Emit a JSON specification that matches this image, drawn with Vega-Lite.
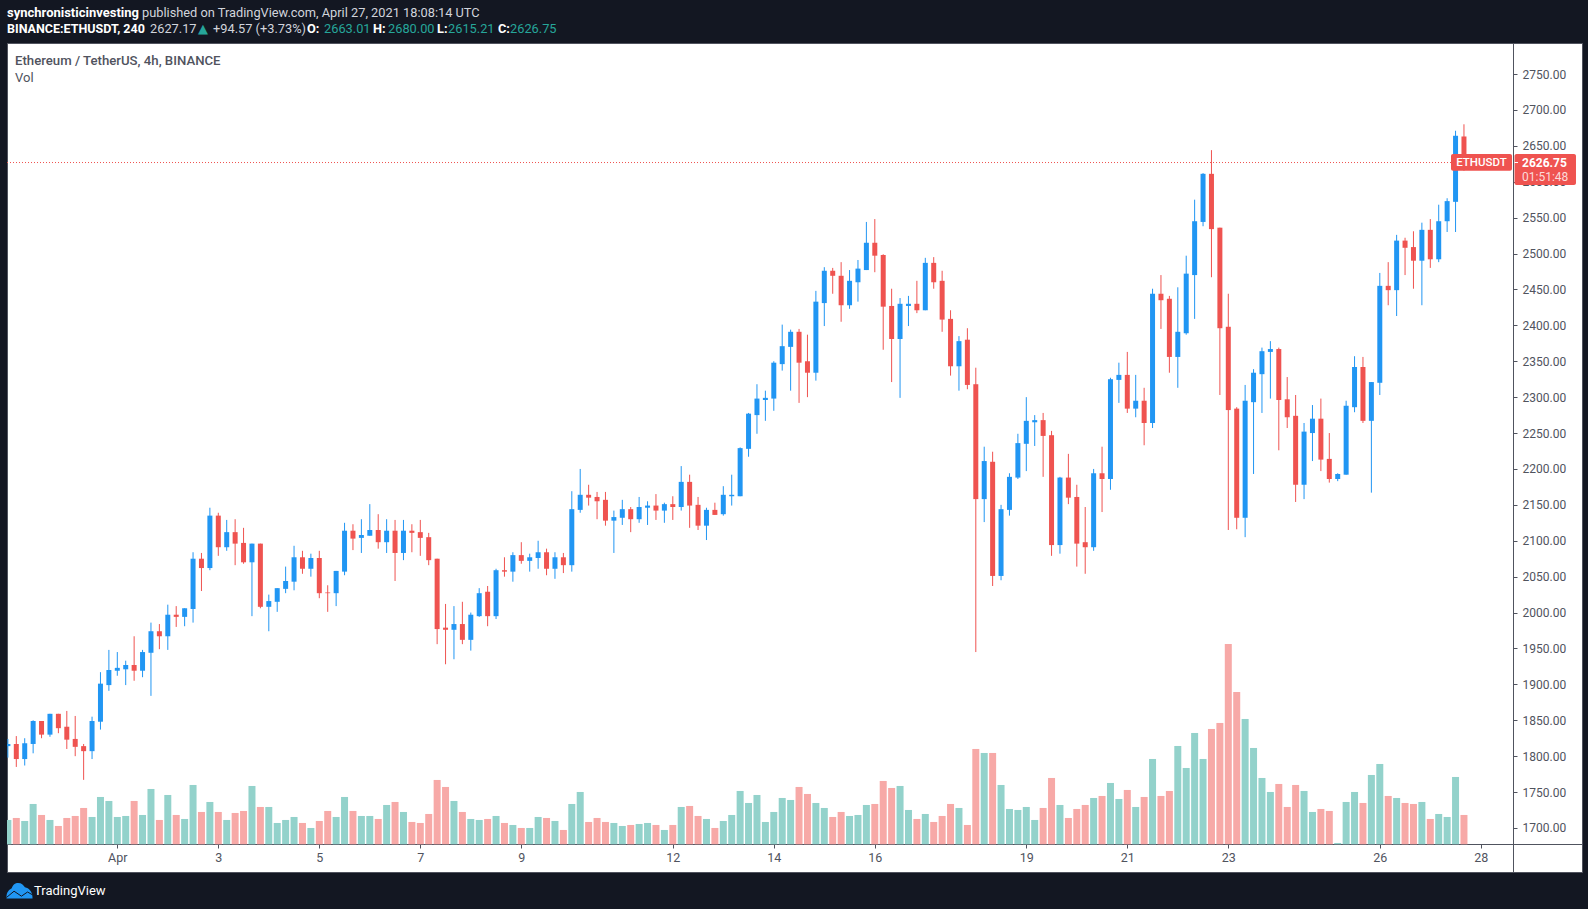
{
"$schema":"https://vega.github.io/schema/vega-lite/v6.json",
"background":"#131722",
"autosize":"none",
"padding":{"left":7,"top":43,"right":6,"bottom":37},
"width":1575,
"height":829,
"view":{"fill":"#ffffff","stroke":"#50535e","strokeWidth":1},
"config":{"scale":{"continuousPadding":0}},
"data":{"values":[
{"t":"2021-03-29T20:00Z","o":1814,"h":1824,"l":1798,"c":1817,"v":73},
{"t":"2021-03-30T00:00Z","o":1817,"h":1828,"l":1785,"c":1796,"v":79},
{"t":"2021-03-30T04:00Z","o":1796,"h":1825,"l":1787,"c":1818,"v":70},
{"t":"2021-03-30T08:00Z","o":1817,"h":1850,"l":1804,"c":1849,"v":121},
{"t":"2021-03-30T12:00Z","o":1849,"h":1849,"l":1825,"c":1830,"v":88},
{"t":"2021-03-30T16:00Z","o":1830,"h":1859,"l":1827,"c":1859,"v":73},
{"t":"2021-03-30T20:00Z","o":1859,"h":1859,"l":1832,"c":1839,"v":55},
{"t":"2021-03-31T00:00Z","o":1841,"h":1863,"l":1810,"c":1823,"v":79},
{"t":"2021-03-31T04:00Z","o":1824,"h":1856,"l":1800,"c":1813,"v":85},
{"t":"2021-03-31T08:00Z","o":1814,"h":1817,"l":1767,"c":1807,"v":109},
{"t":"2021-03-31T12:00Z","o":1807,"h":1855,"l":1796,"c":1849,"v":82},
{"t":"2021-03-31T16:00Z","o":1848,"h":1917,"l":1837,"c":1901,"v":142},
{"t":"2021-03-31T20:00Z","o":1899,"h":1948,"l":1891,"c":1920,"v":130},
{"t":"2021-04-01T00:00Z","o":1919,"h":1945,"l":1912,"c":1923,"v":82},
{"t":"2021-04-01T04:00Z","o":1921,"h":1933,"l":1899,"c":1927,"v":85},
{"t":"2021-04-01T08:00Z","o":1927,"h":1967,"l":1905,"c":1919,"v":130},
{"t":"2021-04-01T12:00Z","o":1919,"h":1948,"l":1910,"c":1945,"v":88},
{"t":"2021-04-01T16:00Z","o":1944,"h":1986,"l":1884,"c":1974,"v":166},
{"t":"2021-04-01T20:00Z","o":1974,"h":1984,"l":1949,"c":1967,"v":73},
{"t":"2021-04-02T00:00Z","o":1967,"h":2011,"l":1948,"c":1997,"v":148},
{"t":"2021-04-02T04:00Z","o":1997,"h":2009,"l":1980,"c":1994,"v":88},
{"t":"2021-04-02T08:00Z","o":1994,"h":2006,"l":1981,"c":2006,"v":76},
{"t":"2021-04-02T12:00Z","o":2005,"h":2084,"l":1986,"c":2075,"v":178},
{"t":"2021-04-02T16:00Z","o":2075,"h":2083,"l":2030,"c":2062,"v":97},
{"t":"2021-04-02T20:00Z","o":2062,"h":2146,"l":2059,"c":2135,"v":127},
{"t":"2021-04-03T00:00Z","o":2135,"h":2139,"l":2079,"c":2091,"v":97},
{"t":"2021-04-03T04:00Z","o":2091,"h":2129,"l":2086,"c":2112,"v":73},
{"t":"2021-04-03T08:00Z","o":2112,"h":2130,"l":2066,"c":2096,"v":94},
{"t":"2021-04-03T12:00Z","o":2097,"h":2118,"l":2068,"c":2070,"v":100},
{"t":"2021-04-03T16:00Z","o":2070,"h":2096,"l":1995,"c":2096,"v":175},
{"t":"2021-04-03T20:00Z","o":2096,"h":2096,"l":2006,"c":2008,"v":112},
{"t":"2021-04-04T00:00Z","o":2008,"h":2025,"l":1974,"c":2016,"v":112},
{"t":"2021-04-04T04:00Z","o":2015,"h":2034,"l":2001,"c":2034,"v":64},
{"t":"2021-04-04T08:00Z","o":2033,"h":2064,"l":2027,"c":2044,"v":73},
{"t":"2021-04-04T12:00Z","o":2043,"h":2093,"l":2031,"c":2077,"v":82},
{"t":"2021-04-04T16:00Z","o":2077,"h":2086,"l":2054,"c":2061,"v":64},
{"t":"2021-04-04T20:00Z","o":2061,"h":2082,"l":2050,"c":2076,"v":49},
{"t":"2021-04-05T00:00Z","o":2076,"h":2086,"l":2020,"c":2027,"v":70},
{"t":"2021-04-05T04:00Z","o":2028,"h":2038,"l":2001,"c":2027,"v":100},
{"t":"2021-04-05T08:00Z","o":2027,"h":2058,"l":2009,"c":2058,"v":82},
{"t":"2021-04-05T12:00Z","o":2057,"h":2125,"l":2052,"c":2114,"v":142},
{"t":"2021-04-05T16:00Z","o":2114,"h":2123,"l":2087,"c":2103,"v":100},
{"t":"2021-04-05T20:00Z","o":2104,"h":2130,"l":2083,"c":2108,"v":85},
{"t":"2021-04-06T00:00Z","o":2107,"h":2151,"l":2107,"c":2115,"v":85},
{"t":"2021-04-06T04:00Z","o":2115,"h":2137,"l":2089,"c":2098,"v":76},
{"t":"2021-04-06T08:00Z","o":2098,"h":2130,"l":2083,"c":2114,"v":118},
{"t":"2021-04-06T12:00Z","o":2114,"h":2129,"l":2044,"c":2083,"v":127},
{"t":"2021-04-06T16:00Z","o":2083,"h":2129,"l":2073,"c":2114,"v":97},
{"t":"2021-04-06T20:00Z","o":2114,"h":2123,"l":2084,"c":2111,"v":67},
{"t":"2021-04-07T00:00Z","o":2112,"h":2129,"l":2079,"c":2104,"v":64},
{"t":"2021-04-07T04:00Z","o":2105,"h":2111,"l":2066,"c":2073,"v":91},
{"t":"2021-04-07T08:00Z","o":2075,"h":2075,"l":1956,"c":1977,"v":193},
{"t":"2021-04-07T12:00Z","o":1979,"h":2012,"l":1928,"c":1976,"v":172},
{"t":"2021-04-07T16:00Z","o":1976,"h":2009,"l":1935,"c":1984,"v":130},
{"t":"2021-04-07T20:00Z","o":1984,"h":2015,"l":1956,"c":1962,"v":97},
{"t":"2021-04-08T00:00Z","o":1962,"h":2000,"l":1947,"c":1997,"v":76},
{"t":"2021-04-08T04:00Z","o":1995,"h":2034,"l":1994,"c":2027,"v":73},
{"t":"2021-04-08T08:00Z","o":2029,"h":2037,"l":1981,"c":1995,"v":76},
{"t":"2021-04-08T12:00Z","o":1995,"h":2061,"l":1991,"c":2059,"v":85},
{"t":"2021-04-08T16:00Z","o":2059,"h":2077,"l":2050,"c":2057,"v":64},
{"t":"2021-04-08T20:00Z","o":2057,"h":2084,"l":2043,"c":2080,"v":58},
{"t":"2021-04-09T00:00Z","o":2080,"h":2098,"l":2068,"c":2072,"v":49},
{"t":"2021-04-09T04:00Z","o":2072,"h":2082,"l":2057,"c":2077,"v":49},
{"t":"2021-04-09T08:00Z","o":2076,"h":2100,"l":2061,"c":2084,"v":82},
{"t":"2021-04-09T12:00Z","o":2084,"h":2089,"l":2052,"c":2061,"v":79},
{"t":"2021-04-09T16:00Z","o":2061,"h":2084,"l":2047,"c":2077,"v":70},
{"t":"2021-04-09T20:00Z","o":2077,"h":2083,"l":2055,"c":2066,"v":43},
{"t":"2021-04-10T00:00Z","o":2066,"h":2169,"l":2057,"c":2144,"v":121},
{"t":"2021-04-10T04:00Z","o":2143,"h":2200,"l":2139,"c":2164,"v":157},
{"t":"2021-04-10T08:00Z","o":2164,"h":2178,"l":2149,"c":2160,"v":67},
{"t":"2021-04-10T12:00Z","o":2161,"h":2168,"l":2130,"c":2155,"v":79},
{"t":"2021-04-10T16:00Z","o":2157,"h":2168,"l":2121,"c":2128,"v":67},
{"t":"2021-04-10T20:00Z","o":2128,"h":2142,"l":2083,"c":2133,"v":64},
{"t":"2021-04-11T00:00Z","o":2132,"h":2157,"l":2122,"c":2144,"v":55},
{"t":"2021-04-11T04:00Z","o":2144,"h":2147,"l":2112,"c":2130,"v":58},
{"t":"2021-04-11T08:00Z","o":2130,"h":2161,"l":2125,"c":2147,"v":61},
{"t":"2021-04-11T12:00Z","o":2146,"h":2155,"l":2122,"c":2149,"v":64},
{"t":"2021-04-11T16:00Z","o":2149,"h":2165,"l":2129,"c":2142,"v":58},
{"t":"2021-04-11T20:00Z","o":2142,"h":2153,"l":2125,"c":2151,"v":43},
{"t":"2021-04-12T00:00Z","o":2151,"h":2162,"l":2129,"c":2147,"v":58},
{"t":"2021-04-12T04:00Z","o":2147,"h":2204,"l":2142,"c":2182,"v":112},
{"t":"2021-04-12T08:00Z","o":2182,"h":2192,"l":2118,"c":2149,"v":115},
{"t":"2021-04-12T12:00Z","o":2150,"h":2161,"l":2115,"c":2121,"v":85},
{"t":"2021-04-12T16:00Z","o":2121,"h":2146,"l":2101,"c":2143,"v":76},
{"t":"2021-04-12T20:00Z","o":2143,"h":2153,"l":2136,"c":2136,"v":49},
{"t":"2021-04-13T00:00Z","o":2137,"h":2176,"l":2135,"c":2164,"v":70},
{"t":"2021-04-13T04:00Z","o":2162,"h":2192,"l":2149,"c":2164,"v":88},
{"t":"2021-04-13T08:00Z","o":2162,"h":2230,"l":2162,"c":2229,"v":160},
{"t":"2021-04-13T12:00Z","o":2228,"h":2278,"l":2217,"c":2277,"v":124},
{"t":"2021-04-13T16:00Z","o":2275,"h":2318,"l":2249,"c":2298,"v":148},
{"t":"2021-04-13T20:00Z","o":2296,"h":2309,"l":2267,"c":2299,"v":67},
{"t":"2021-04-14T00:00Z","o":2298,"h":2350,"l":2281,"c":2348,"v":97},
{"t":"2021-04-14T04:00Z","o":2346,"h":2401,"l":2337,"c":2371,"v":139},
{"t":"2021-04-14T08:00Z","o":2370,"h":2394,"l":2309,"c":2391,"v":133},
{"t":"2021-04-14T12:00Z","o":2391,"h":2395,"l":2292,"c":2348,"v":172},
{"t":"2021-04-14T16:00Z","o":2350,"h":2387,"l":2300,"c":2334,"v":151},
{"t":"2021-04-14T20:00Z","o":2334,"h":2448,"l":2323,"c":2433,"v":124},
{"t":"2021-04-15T00:00Z","o":2431,"h":2481,"l":2399,"c":2476,"v":109},
{"t":"2021-04-15T04:00Z","o":2476,"h":2480,"l":2444,"c":2469,"v":82},
{"t":"2021-04-15T08:00Z","o":2469,"h":2488,"l":2405,"c":2428,"v":97},
{"t":"2021-04-15T12:00Z","o":2428,"h":2477,"l":2423,"c":2462,"v":85},
{"t":"2021-04-15T16:00Z","o":2460,"h":2491,"l":2433,"c":2479,"v":88},
{"t":"2021-04-15T20:00Z","o":2477,"h":2544,"l":2477,"c":2515,"v":118},
{"t":"2021-04-16T00:00Z","o":2515,"h":2548,"l":2474,"c":2497,"v":121},
{"t":"2021-04-16T04:00Z","o":2498,"h":2499,"l":2366,"c":2426,"v":190},
{"t":"2021-04-16T08:00Z","o":2427,"h":2451,"l":2321,"c":2381,"v":169},
{"t":"2021-04-16T12:00Z","o":2381,"h":2438,"l":2299,"c":2430,"v":175},
{"t":"2021-04-16T16:00Z","o":2427,"h":2441,"l":2399,"c":2430,"v":103},
{"t":"2021-04-16T20:00Z","o":2430,"h":2462,"l":2417,"c":2421,"v":76},
{"t":"2021-04-17T00:00Z","o":2421,"h":2494,"l":2421,"c":2487,"v":91},
{"t":"2021-04-17T04:00Z","o":2487,"h":2495,"l":2451,"c":2460,"v":67},
{"t":"2021-04-17T08:00Z","o":2462,"h":2476,"l":2391,"c":2408,"v":85},
{"t":"2021-04-17T12:00Z","o":2409,"h":2421,"l":2330,"c":2343,"v":121},
{"t":"2021-04-17T16:00Z","o":2343,"h":2385,"l":2309,"c":2378,"v":109},
{"t":"2021-04-17T20:00Z","o":2380,"h":2396,"l":2311,"c":2317,"v":58},
{"t":"2021-04-18T00:00Z","o":2318,"h":2341,"l":1945,"c":2158,"v":286},
{"t":"2021-04-18T04:00Z","o":2158,"h":2231,"l":2126,"c":2211,"v":274},
{"t":"2021-04-18T08:00Z","o":2210,"h":2224,"l":2037,"c":2051,"v":274},
{"t":"2021-04-18T12:00Z","o":2051,"h":2150,"l":2045,"c":2144,"v":178},
{"t":"2021-04-18T16:00Z","o":2143,"h":2194,"l":2135,"c":2189,"v":106},
{"t":"2021-04-18T20:00Z","o":2188,"h":2249,"l":2186,"c":2236,"v":103},
{"t":"2021-04-19T00:00Z","o":2235,"h":2300,"l":2197,"c":2267,"v":112},
{"t":"2021-04-19T04:00Z","o":2265,"h":2275,"l":2232,"c":2268,"v":73},
{"t":"2021-04-19T08:00Z","o":2268,"h":2278,"l":2189,"c":2246,"v":109},
{"t":"2021-04-19T12:00Z","o":2247,"h":2253,"l":2079,"c":2094,"v":199},
{"t":"2021-04-19T16:00Z","o":2094,"h":2189,"l":2082,"c":2188,"v":118},
{"t":"2021-04-19T20:00Z","o":2188,"h":2221,"l":2151,"c":2160,"v":79},
{"t":"2021-04-20T00:00Z","o":2161,"h":2178,"l":2064,"c":2096,"v":106},
{"t":"2021-04-20T04:00Z","o":2098,"h":2147,"l":2054,"c":2091,"v":118},
{"t":"2021-04-20T08:00Z","o":2091,"h":2200,"l":2086,"c":2194,"v":139},
{"t":"2021-04-20T12:00Z","o":2194,"h":2231,"l":2140,"c":2186,"v":145},
{"t":"2021-04-20T16:00Z","o":2186,"h":2327,"l":2171,"c":2325,"v":184},
{"t":"2021-04-20T20:00Z","o":2324,"h":2348,"l":2292,"c":2331,"v":136},
{"t":"2021-04-21T00:00Z","o":2331,"h":2363,"l":2278,"c":2284,"v":163},
{"t":"2021-04-21T04:00Z","o":2284,"h":2331,"l":2272,"c":2295,"v":112},
{"t":"2021-04-21T08:00Z","o":2295,"h":2313,"l":2233,"c":2264,"v":142},
{"t":"2021-04-21T12:00Z","o":2264,"h":2451,"l":2257,"c":2444,"v":256},
{"t":"2021-04-21T16:00Z","o":2444,"h":2470,"l":2395,"c":2435,"v":145},
{"t":"2021-04-21T20:00Z","o":2437,"h":2441,"l":2334,"c":2356,"v":160},
{"t":"2021-04-22T00:00Z","o":2356,"h":2453,"l":2313,"c":2391,"v":295},
{"t":"2021-04-22T04:00Z","o":2389,"h":2497,"l":2387,"c":2472,"v":229},
{"t":"2021-04-22T08:00Z","o":2470,"h":2575,"l":2409,"c":2545,"v":334},
{"t":"2021-04-22T12:00Z","o":2544,"h":2612,"l":2538,"c":2611,"v":256},
{"t":"2021-04-22T16:00Z","o":2611,"h":2644,"l":2467,"c":2534,"v":346},
{"t":"2021-04-22T20:00Z","o":2536,"h":2536,"l":2303,"c":2396,"v":364},
{"t":"2021-04-23T00:00Z","o":2398,"h":2444,"l":2115,"c":2282,"v":601},
{"t":"2021-04-23T04:00Z","o":2284,"h":2286,"l":2116,"c":2132,"v":457},
{"t":"2021-04-23T08:00Z","o":2132,"h":2317,"l":2105,"c":2295,"v":376},
{"t":"2021-04-23T12:00Z","o":2293,"h":2339,"l":2193,"c":2334,"v":289},
{"t":"2021-04-23T16:00Z","o":2332,"h":2369,"l":2278,"c":2364,"v":199},
{"t":"2021-04-23T20:00Z","o":2363,"h":2378,"l":2298,"c":2367,"v":157},
{"t":"2021-04-24T00:00Z","o":2367,"h":2369,"l":2226,"c":2296,"v":181},
{"t":"2021-04-24T04:00Z","o":2297,"h":2328,"l":2257,"c":2272,"v":112},
{"t":"2021-04-24T08:00Z","o":2274,"h":2303,"l":2154,"c":2178,"v":178},
{"t":"2021-04-24T12:00Z","o":2178,"h":2264,"l":2158,"c":2252,"v":160},
{"t":"2021-04-24T16:00Z","o":2250,"h":2289,"l":2211,"c":2270,"v":97},
{"t":"2021-04-24T20:00Z","o":2270,"h":2298,"l":2197,"c":2213,"v":106},
{"t":"2021-04-25T00:00Z","o":2214,"h":2250,"l":2181,"c":2186,"v":100},
{"t":"2021-04-25T04:00Z","o":2186,"h":2194,"l":2183,"c":2193,"v":4},
{"t":"2021-04-25T08:00Z","o":2192,"h":2295,"l":2192,"c":2288,"v":127},
{"t":"2021-04-25T12:00Z","o":2286,"h":2357,"l":2279,"c":2342,"v":157},
{"t":"2021-04-25T16:00Z","o":2342,"h":2356,"l":2264,"c":2267,"v":124},
{"t":"2021-04-25T20:00Z","o":2267,"h":2321,"l":2167,"c":2321,"v":208},
{"t":"2021-04-26T00:00Z","o":2320,"h":2473,"l":2303,"c":2455,"v":241},
{"t":"2021-04-26T04:00Z","o":2455,"h":2488,"l":2428,"c":2449,"v":145},
{"t":"2021-04-26T08:00Z","o":2449,"h":2526,"l":2413,"c":2518,"v":139},
{"t":"2021-04-26T12:00Z","o":2518,"h":2522,"l":2470,"c":2508,"v":124},
{"t":"2021-04-26T16:00Z","o":2509,"h":2531,"l":2451,"c":2490,"v":121},
{"t":"2021-04-26T20:00Z","o":2490,"h":2543,"l":2428,"c":2533,"v":127},
{"t":"2021-04-27T00:00Z","o":2533,"h":2548,"l":2480,"c":2492,"v":76},
{"t":"2021-04-27T04:00Z","o":2492,"h":2568,"l":2488,"c":2545,"v":91},
{"t":"2021-04-27T08:00Z","o":2545,"h":2577,"l":2530,"c":2573,"v":82},
{"t":"2021-04-27T12:00Z","o":2572,"h":2671,"l":2530,"c":2664,"v":202},
{"t":"2021-04-27T16:00Z","o":2663.01,"h":2680,"l":2615.21,"c":2626.75,"v":88}
]},
"resolve":{"scale":{"y":"independent"}},
"layer":[
{"mark":{"type":"bar","size":7,"orient":"vertical","clip":true},
"encoding":{
"x":{"field":"t","type":"temporal","title":null,
"scale":{"type":"utc","domain":[1617046488000,1619741145600],"nice":false},
"axis":{"orient":"bottom","offset":-28,"grid":false,"title":null,
"values":[1617235200000,1617408000000,1617580800000,1617753600000,1617926400000,1618185600000,1618358400000,1618531200000,1618790400000,1618963200000,1619136000000,1619395200000,1619568000000],
"labelExpr":"utcdate(datum.value) == 1 ? 'Apr' : '' + utcdate(datum.value)",
"domainColor":"#50535e","tickColor":"#50535e","tickSize":4,"labelColor":"#50535e","labelFont":"Roboto","labelFontSize":12.5,"labelPadding":3,"labelOverlap":false,"labelFlush":false,"zindex":0}},
"y":{"field":"v","type":"quantitative","axis":null,"scale":{"domain":[0,2400],"range":[801.3,1.3],"nice":false,"zero":true}},
"color":{"condition":{"test":"datum.c >= datum.o","value":"#93d2cb"},"value":"#f7a9a7"}}},
{"layer":[
{"mark":{"type":"rule","strokeWidth":1,"clip":true},
"encoding":{
"x":{"field":"t","type":"temporal"},
"y":{"field":"h","type":"quantitative","title":null,
"scale":{"domain":[1638.7,2793.2],"nice":false,"zero":false},
"axis":{"orient":"right","offset":-69,"grid":false,"title":null,"tickCount":24,"values":[1700,1750,1800,1850,1900,1950,2000,2050,2100,2150,2200,2250,2300,2350,2400,2450,2500,2550,2600,2650,2700,2750],"format":".2f","domainColor":"#50535e","tickColor":"#50535e","tickSize":4,"labelColor":"#50535e","labelFont":"Roboto","labelFontSize":12,"labelPadding":5,"labelOverlap":false,"labelFlush":false,"labelBound":false,"labelSeparation":0,"zindex":0}},
"y2":{"field":"l"},
"color":{"condition":{"test":"datum.c >= datum.o","value":"#2196f3"},"value":"#ef5350"}}},
{"mark":{"type":"bar","size":5,"orient":"vertical","clip":true},
"encoding":{
"x":{"field":"t","type":"temporal"},
"y":{"field":"o","type":"quantitative"},
"y2":{"field":"c"},
"color":{"condition":{"test":"datum.c >= datum.o","value":"#2196f3"},"value":"#ef5350"}}},
{"data":{"values":[{"price":2626.75}]},
"mark":{"type":"rule","strokeWidth":1,"strokeDash":[1,2],"color":"#ef5350"},
"encoding":{"x":{"datum":1617046488000,"type":"temporal"},"x2":{"datum":1619517024000},"y":{"field":"price","type":"quantitative"}}},
{"data":{"values":[{"top":2638.6,"bottom":2615.3}]},
"mark":{"type":"rect","color":"#ef5350","cornerRadius":2},
"encoding":{"x":{"datum":1619517024000,"type":"temporal"},"x2":{"datum":1619621395200},"y":{"field":"top","type":"quantitative"},"y2":{"field":"bottom"}}},
{"data":{"values":[{"top":2638.6,"bottom":2595.4}]},
"mark":{"type":"rect","color":"#ef5350","cornerRadius":2},
"encoding":{"x":{"datum":1619625715200,"type":"temporal"},"x2":{"datum":1619730864000},"y":{"field":"top","type":"quantitative"},"y2":{"field":"bottom"}}},
{"data":{"values":[{"price":2626.75}]},
"mark":{"type":"rule","strokeWidth":1,"color":"#ffffff"},
"encoding":{"x":{"datum":1619625715200,"type":"temporal"},"x2":{"datum":1619631676800},"y":{"field":"price","type":"quantitative"}}},
{"data":{"values":[{"text":"ETHUSDT","price":2626.75}]},
"mark":{"type":"text","color":"#ffffff","font":"Roboto","fontSize":11.5,"fontWeight":500,"align":"center","baseline":"middle"},
"encoding":{"x":{"datum":1619569209600,"type":"temporal"},"y":{"field":"price","type":"quantitative"},"text":{"field":"text"}}},
{"data":{"values":[{"text":"2626.75","price":2626.75}]},
"mark":{"type":"text","color":"#ffffff","font":"Roboto","fontSize":12,"fontWeight":"bold","align":"left","baseline":"middle","dx":-1},
"encoding":{"x":{"datum":1619640230400,"type":"temporal"},"y":{"field":"price","type":"quantitative"},"text":{"field":"text"}}},
{"data":{"values":[{"text":"01:51:48","price":2606.6}]},
"mark":{"type":"text","color":"#fbdcdb","font":"Roboto","fontSize":12,"align":"left","baseline":"middle","dx":-1},
"encoding":{"x":{"datum":1619640230400,"type":"temporal"},"y":{"field":"price","type":"quantitative"},"text":{"field":"text"}}},
{"data":{"values":[{"text":"synchronisticinvesting","price":2834.9}]},
"mark":{"type":"text","color":"#ffffff","font":"Roboto","fontSize":13,"fontWeight":"bold","align":"left","baseline":"middle","dx":0},
"encoding":{"x":{"datum":1617046488000,"type":"temporal"},"y":{"field":"price","type":"quantitative"},"text":{"field":"text"}}},
{"data":{"values":[{"text":"published on TradingView.com, April 27, 2021 18:08:14 UTC","price":2834.9}]},
"mark":{"type":"text","color":"#d1d4dc","font":"Roboto","fontSize":12.8,"align":"left","baseline":"middle","dx":135},
"encoding":{"x":{"datum":1617046488000,"type":"temporal"},"y":{"field":"price","type":"quantitative"},"text":{"field":"text"}}},
{"data":{"values":[{"text":"BINANCE:ETHUSDT, 240","price":2812.7}]},
"mark":{"type":"text","color":"#ffffff","font":"Roboto","fontSize":12.5,"fontWeight":"bold","align":"left","baseline":"middle","dx":0},
"encoding":{"x":{"datum":1617046488000,"type":"temporal"},"y":{"field":"price","type":"quantitative"},"text":{"field":"text"}}},
{"data":{"values":[{"text":"2627.17","price":2812.7}]},
"mark":{"type":"text","color":"#d1d4dc","font":"Roboto","fontSize":12.8,"align":"left","baseline":"middle","dx":143},
"encoding":{"x":{"datum":1617046488000,"type":"temporal"},"y":{"field":"price","type":"quantitative"},"text":{"field":"text"}}},
{"data":{"values":[{"text":"▲","price":2812.7}]},
"mark":{"type":"text","color":"#26a69a","font":"DejaVu Sans","fontSize":13,"align":"left","baseline":"middle","dx":191},
"encoding":{"x":{"datum":1617046488000,"type":"temporal"},"y":{"field":"price","type":"quantitative"},"text":{"field":"text"}}},
{"data":{"values":[{"text":"+94.57 (+3.73%)","price":2812.7}]},
"mark":{"type":"text","color":"#d1d4dc","font":"Roboto","fontSize":12.8,"align":"left","baseline":"middle","dx":206},
"encoding":{"x":{"datum":1617046488000,"type":"temporal"},"y":{"field":"price","type":"quantitative"},"text":{"field":"text"}}},
{"data":{"values":[{"text":"O:","price":2812.7}]},
"mark":{"type":"text","color":"#ffffff","font":"Roboto","fontSize":12.8,"fontWeight":"bold","align":"left","baseline":"middle","dx":300},
"encoding":{"x":{"datum":1617046488000,"type":"temporal"},"y":{"field":"price","type":"quantitative"},"text":{"field":"text"}}},
{"data":{"values":[{"text":"2663.01","price":2812.7}]},
"mark":{"type":"text","color":"#26a69a","font":"Roboto","fontSize":12.8,"align":"left","baseline":"middle","dx":317},
"encoding":{"x":{"datum":1617046488000,"type":"temporal"},"y":{"field":"price","type":"quantitative"},"text":{"field":"text"}}},
{"data":{"values":[{"text":"H:","price":2812.7}]},
"mark":{"type":"text","color":"#ffffff","font":"Roboto","fontSize":12.8,"fontWeight":"bold","align":"left","baseline":"middle","dx":366},
"encoding":{"x":{"datum":1617046488000,"type":"temporal"},"y":{"field":"price","type":"quantitative"},"text":{"field":"text"}}},
{"data":{"values":[{"text":"2680.00","price":2812.7}]},
"mark":{"type":"text","color":"#26a69a","font":"Roboto","fontSize":12.8,"align":"left","baseline":"middle","dx":381},
"encoding":{"x":{"datum":1617046488000,"type":"temporal"},"y":{"field":"price","type":"quantitative"},"text":{"field":"text"}}},
{"data":{"values":[{"text":"L:","price":2812.7}]},
"mark":{"type":"text","color":"#ffffff","font":"Roboto","fontSize":12.8,"fontWeight":"bold","align":"left","baseline":"middle","dx":430},
"encoding":{"x":{"datum":1617046488000,"type":"temporal"},"y":{"field":"price","type":"quantitative"},"text":{"field":"text"}}},
{"data":{"values":[{"text":"2615.21","price":2812.7}]},
"mark":{"type":"text","color":"#26a69a","font":"Roboto","fontSize":12.8,"align":"left","baseline":"middle","dx":441},
"encoding":{"x":{"datum":1617046488000,"type":"temporal"},"y":{"field":"price","type":"quantitative"},"text":{"field":"text"}}},
{"data":{"values":[{"text":"C:","price":2812.7}]},
"mark":{"type":"text","color":"#ffffff","font":"Roboto","fontSize":12.8,"fontWeight":"bold","align":"left","baseline":"middle","dx":491},
"encoding":{"x":{"datum":1617046488000,"type":"temporal"},"y":{"field":"price","type":"quantitative"},"text":{"field":"text"}}},
{"data":{"values":[{"text":"2626.75","price":2812.7}]},
"mark":{"type":"text","color":"#26a69a","font":"Roboto","fontSize":12.8,"align":"left","baseline":"middle","dx":503},
"encoding":{"x":{"datum":1617046488000,"type":"temporal"},"y":{"field":"price","type":"quantitative"},"text":{"field":"text"}}},
{"data":{"values":[{"text":"Ethereum / TetherUS, 4h, BINANCE","price":2768.5}]},
"mark":{"type":"text","color":"#50535e","font":"Roboto","fontSize":13.2,"fontWeight":500,"align":"left","baseline":"middle","dx":8},
"encoding":{"x":{"datum":1617046488000,"type":"temporal"},"y":{"field":"price","type":"quantitative"},"text":{"field":"text"}}},
{"data":{"values":[{"text":"Vol","price":2744.8}]},
"mark":{"type":"text","color":"#50535e","font":"Roboto","fontSize":13,"align":"left","baseline":"middle","dx":8},
"encoding":{"x":{"datum":1617046488000,"type":"temporal"},"y":{"field":"price","type":"quantitative"},"text":{"field":"text"}}},
{"data":{"values":[{"text":"TradingView","price":1612.3}]},
"mark":{"type":"text","color":"#ffffff","font":"Roboto","fontSize":13,"align":"left","baseline":"middle","dx":27},
"encoding":{"x":{"datum":1617046488000,"type":"temporal"},"y":{"field":"price","type":"quantitative"},"text":{"field":"text"}}},
{"data":{"values":[{"price":1612.3}]},
"mark":{"type":"point","filled":true,"color":"#2196f3","opacity":1,"size":676,"shape":"M-1,0.5 C-1,0.2 -0.92,-0.02 -0.6,-0.2 C-0.5,-0.5 -0.35,-0.62 -0.1,-0.62 C0.15,-0.62 0.3,-0.48 0.42,-0.28 C0.72,-0.22 1,0.05 1,0.5 L1,0.58 L-1,0.58 Z"},
"encoding":{"x":{"datum":1617067877760,"type":"temporal"},"y":{"field":"price","type":"quantitative"}}},
{"data":{"values":[{"price":1612.3}]},
"mark":{"type":"point","filled":false,"color":"#131722","opacity":1,"strokeWidth":1,"size":676,"shape":"M-1,0.5 L-0.42,0.02 L0.15,0.4 L0.62,0.08 L1,0.3"},
"encoding":{"x":{"datum":1617067877760,"type":"temporal"},"y":{"field":"price","type":"quantitative"}}}
]}
]
}
